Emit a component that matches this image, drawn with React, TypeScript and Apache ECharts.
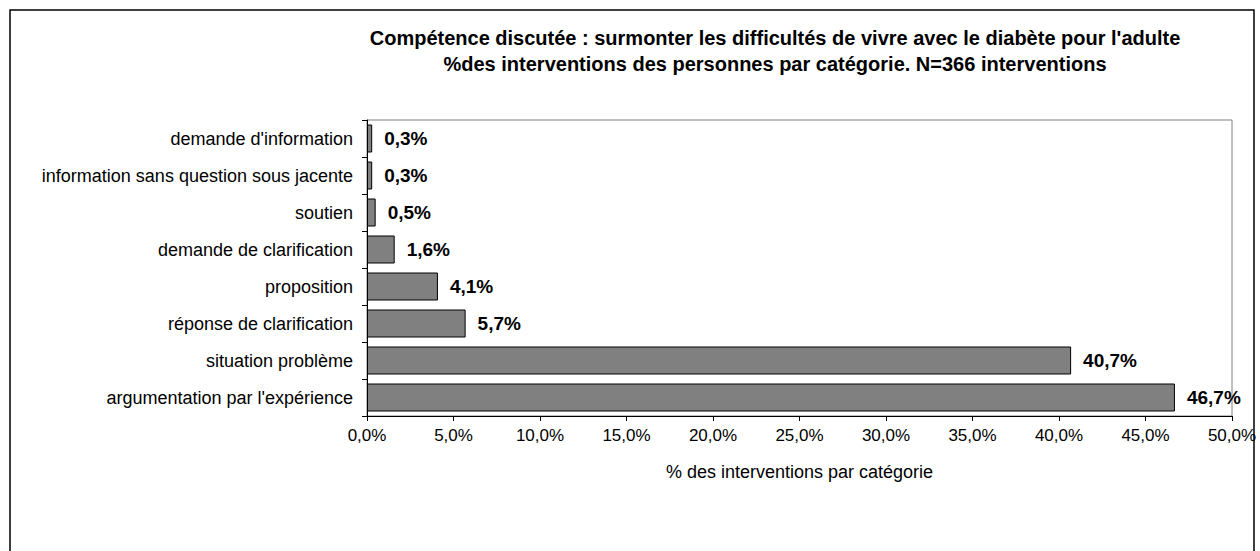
import React, { useEffect, useRef } from "react";
import * as echarts from "echarts";

const categories = [
  "argumentation par l'expérience",
  "situation problème",
  "réponse de clarification",
  "proposition",
  "demande de clarification",
  "soutien",
  "information sans question sous jacente",
  "demande d'information",
];
const values = [46.7, 40.7, 5.7, 4.1, 1.6, 0.5, 0.3, 0.3];
const xTicks = [0, 5, 10, 15, 20, 25, 30, 35, 40, 45, 50];
const titleLines = [
  "Compétence discutée : surmonter les difficultés de vivre avec le diabète pour l'adulte",
  "%des interventions des personnes par catégorie. N=366 interventions",
];
const xAxisName = "% des interventions par catégorie";

const FONT = "'Liberation Sans', Arial, sans-serif";
const fmt = (v: number) => v.toFixed(1).replace(".", ",") + "%";

export default function App() {
  const ref = useRef<HTMLDivElement>(null);
  useEffect(() => {
    document.body.style.margin = "0";
    if (!ref.current) return;
    const chart = echarts.init(ref.current, null, { renderer: "svg" });
    chart.setOption({
      animation: false,
      backgroundColor: "#ffffff",
      title: {
        text: titleLines.join("\n"),
        left: 770,
        top: 20,
        textAlign: "center",
        textStyle: {
          fontFamily: FONT,
          fontSize: 20,
          fontWeight: "bold",
          color: "#000",
          lineHeight: 26,
        },
      },
      graphic: [
        {
          type: "rect",
          shape: { x: 10, y: 10, width: 1244, height: 560 },
          style: { fill: "none", stroke: "#000", lineWidth: 1.5 },
          silent: true,
        },
      ],
      grid: {
        left: 367,
        right: 28,
        top: 120,
        bottom: 135,
        show: true,
        borderColor: "#808080",
        borderWidth: 1,
        containLabel: false,
      },
      xAxis: {
        type: "value",
        min: xTicks[0],
        max: xTicks[xTicks.length - 1],
        interval: 5,
        name: xAxisName,
        nameLocation: "middle",
        nameGap: 47,
        nameTextStyle: { fontFamily: FONT, fontSize: 18, color: "#000" },
        axisLine: { show: true, lineStyle: { color: "#000", width: 1 } },
        axisTick: { show: true, length: 5, lineStyle: { color: "#000" } },
        axisLabel: {
          fontFamily: FONT,
          fontSize: 17,
          color: "#000",
          margin: 11,
          formatter: (v: number) => fmt(v),
        },
        splitLine: { show: false },
      },
      yAxis: {
        type: "category",
        data: categories,
        axisLine: { show: true, lineStyle: { color: "#000", width: 1 } },
        axisTick: { show: true, length: 5, lineStyle: { color: "#000" } },
        axisLabel: {
          fontFamily: FONT,
          fontSize: 18,
          color: "#000",
          margin: 14,
        },
        splitLine: { show: false },
      },
      series: [
        {
          type: "bar",
          data: values,
          barWidth: 28,
          itemStyle: { color: "#808080", borderColor: "#000", borderWidth: 1 },
          label: {
            show: true,
            position: "right",
            distance: 12,
            fontFamily: FONT,
            fontSize: 19,
            fontWeight: "bold",
            color: "#000",
            formatter: (p: any) => fmt(p.value),
          },
        },
      ],
    });
    return () => chart.dispose();
  }, []);
  return <div ref={ref} style={{ width: 1260, height: 551 }} />;
}
